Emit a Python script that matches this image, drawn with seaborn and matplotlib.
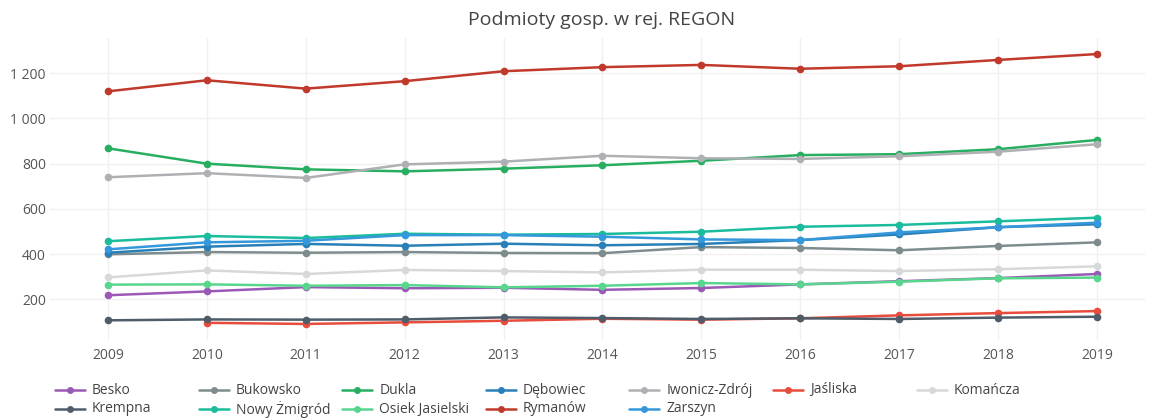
import matplotlib
matplotlib.use("Agg")
import matplotlib.pyplot as plt
import matplotlib.ticker as mticker
from matplotlib.lines import Line2D
import seaborn as sns
import numpy as np
import pandas as pd

sns.set_theme(style="white")
plt.rcParams['font.family'] = ['Open Sans', 'DejaVu Sans']

# --- data ---
years = [2009, 2010, 2011, 2012, 2013, 2014, 2015, 2016, 2017, 2018, 2019]

besko = [218, 235, 254, 249, 251, 242, 250, 266, 280, 294, 312]
bukowsko = [399, 409, 406, 409, 405, 404, 431, 427, 417, 436, 452]
dukla = [868, 800, 775, 766, 778, 793, 813, 838, 842, 864, 905]
debowiec = [406, 433, 445, 437, 446, 439, 445, 462, 487, 519, 532]
iwonicz = [740, 758, 737, 797, 809, 835, 824, 821, 833, 853, 886]
jasliska = [np.nan, 96, 91, 98, 105, 114, 110, 116, 129, 139, 148]
komancza = [297, 328, 312, 330, 325, 319, 331, 331, 325, 333, 346]
krempna = [107, 111, 110, 111, 120, 117, 113, 116, 113, 119, 123]
nowy_zmigrod = [457, 480, 471, 490, 486, 489, 499, 521, 529, 545, 561]
osiek = [265, 266, 260, 263, 253, 260, 272, 266, 278, 293, 296]
rymanow = [1120, 1169, 1132, 1165, 1209, 1227, 1237, 1220, 1231, 1259, 1285]
zarszyn = [421, 452, 459, 484, 484, 477, 465, 462, 496, 519, 539]

names = ["Besko", "Bukowsko", "Dukla", "Dębowiec", "Iwonicz-Zdrój", "Jaśliska",
         "Komańcza", "Krempna", "Nowy Żmigród", "Osiek Jasielski", "Rymanów", "Zarszyn"]
series = [besko, bukowsko, dukla, debowiec, iwonicz, jasliska,
          komancza, krempna, nowy_zmigrod, osiek, rymanow, zarszyn]
colors = ["#9b59b6", "#7f8c8d", "#27ae60", "#2980b9", "#aeb0b3", "#e74c3c",
          "#d6d8d9", "#4f5d6b", "#1abc9c", "#58d68d", "#c0392b", "#3498db"]
palette = dict(zip(names, colors))

rows = []
for name, vals in zip(names, series):
    for y, v in zip(years, vals):
        rows.append({"Rok": y, "Wartość": v, "Gmina": name})
df = pd.DataFrame(rows)

W, H = 1149, 418
fig = plt.figure(figsize=(W / 100, H / 100), dpi=100)
ax = fig.add_axes([50 / W, 1 - 340 / H, (1145 - 50) / W, (340 - 38) / H])

sns.lineplot(data=df, x="Rok", y="Wartość", hue="Gmina", hue_order=names,
             palette=palette, marker="o", markersize=5.5, markeredgewidth=0,
             linewidth=1.8, legend=False, ax=ax)

ax.set_xlim(2008.414, 2019.485)
ax.set_ylim(20, 1356)
ax.set_xticks(years)
ax.set_yticks([200, 400, 600, 800, 1000, 1200])
ax.yaxis.set_major_formatter(mticker.FuncFormatter(lambda v, p: f"{int(v):,}".replace(",", " ")))
ax.set_xlabel("")
ax.set_ylabel("")
ax.grid(True, color="#f0f0f0", linewidth=1)
for s in ax.spines.values():
    s.set_visible(False)
ax.tick_params(axis="both", length=0, labelsize=10, labelcolor="#555555")
ax.tick_params(axis="y", pad=3)
ax.tick_params(axis="x", pad=6)

fig.text(602 / W, 1 - 20 / H, "Podmioty gosp. w rej. REGON", ha="center", va="center",
         fontsize=14, color="#444444")

# legend laid out like the reference: 7 equal columns, 2 rows
col_x = [55 + 143.6 * i for i in range(7)]
row_y = [390, 409]
for i, name in enumerate(names):
    r, c = divmod(i, 7)
    x0 = col_x[c]
    y0 = 1 - row_y[r] / H
    fig.add_artist(Line2D([x0 / W, (x0 + 30) / W], [y0, y0], color=palette[name],
                          linewidth=1.8, transform=fig.transFigure))
    fig.add_artist(Line2D([(x0 + 15) / W], [y0], color=palette[name], marker="o",
                          markersize=5, markeredgewidth=0, transform=fig.transFigure))
    fig.text((x0 + 37) / W, y0, name, ha="left", va="center", fontsize=10, color="#444444")

fig.savefig("out.png", dpi=100)
